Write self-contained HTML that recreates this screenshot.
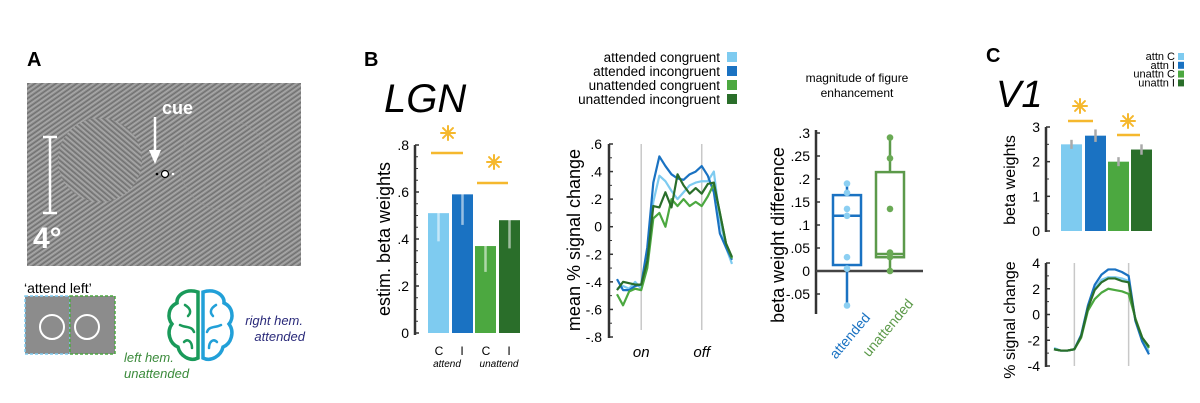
<!DOCTYPE html>
<html><head><meta charset="utf-8"><style>
html,body{margin:0;padding:0;background:#fff;}
svg{display:block;font-family:"Liberation Sans",Arial,sans-serif;}
</style></head><body>
<svg id="fig" width="1200" height="403" viewBox="0 0 1200 403" xmlns="http://www.w3.org/2000/svg">
<defs>
<pattern id="tex1" width="4" height="4" patternUnits="userSpaceOnUse" patternTransform="rotate(-35)">
<rect width="4" height="4" fill="#8f8f8f"/><rect width="4" height="1" fill="#6e6e6e"/><rect y="2" width="4" height="0.8" fill="#b2b2b2"/>
</pattern>
<pattern id="tex2" width="4" height="4" patternUnits="userSpaceOnUse" patternTransform="rotate(40)">
<rect width="4" height="4" fill="#8f8f8f"/><rect width="4" height="1" fill="#6e6e6e"/><rect y="2" width="4" height="0.8" fill="#b2b2b2"/>
</pattern>
</defs>

<!-- Panel A -->
<g>
<text x="27" y="66" font-size="20" font-weight="bold">A</text>
<rect x="27" y="83" width="274" height="183" fill="url(#tex1)"/>
<circle cx="100" cy="160" r="42" fill="url(#tex2)"/>
<circle cx="225" cy="165" r="45" fill="none" stroke="#999" stroke-width="1" opacity="0.5"/>
<g stroke="#fff" stroke-width="2.5">
<line x1="50" y1="137" x2="50" y2="213"/><line x1="43" y1="137" x2="57" y2="137"/><line x1="43" y1="213" x2="57" y2="213"/>
</g>
<text x="33" y="248" font-size="30" font-weight="bold" fill="#fff">4°</text>
<text x="162" y="114" font-size="18" font-weight="bold" fill="#fff">cue</text>
<line x1="155" y1="117" x2="155" y2="160" stroke="#fff" stroke-width="2.5"/>
<polygon points="149,150 161,150 155,164" fill="#fff"/>
<circle cx="165" cy="174" r="3.5" fill="#fff" stroke="#000" stroke-width="1.2"/>
<circle cx="157" cy="174" r="1.3" fill="#000"/><circle cx="173" cy="174" r="1.3" fill="#fff"/>
<text x="24" y="293" font-size="14">‘attend left’</text>
<rect x="25" y="296" width="45" height="58" fill="#8c8c8c" stroke="#7ecbf0" stroke-width="1.5" stroke-dasharray="3,2"/>
<rect x="70" y="296" width="45" height="58" fill="#8c8c8c" stroke="#4ca840" stroke-width="1.5" stroke-dasharray="3,2"/>
<circle cx="52" cy="327" r="12" fill="none" stroke="#fff" stroke-width="2"/>
<circle cx="87" cy="327" r="12" fill="none" stroke="#fff" stroke-width="2"/>
<g fill="none" stroke-width="3.5" stroke-linecap="round">
<path d="M198,292 C185,288 176,296 177,303 C168,307 167,318 172,324 C166,332 170,344 178,347 C180,356 190,362 198,358 Z" stroke="#1a9a5a"/>
<path d="M203,292 C216,288 225,296 224,303 C233,307 234,318 229,324 C235,332 231,344 223,347 C221,356 211,362 203,358 Z" stroke="#22a0d8"/>
<path d="M185,305 C190,308 192,312 188,316 M180,325 C186,328 192,326 194,332 M184,342 C188,338 192,342 192,348" stroke="#1a9a5a" stroke-width="2.5"/>
<path d="M216,305 C211,308 209,312 213,316 M221,325 C215,328 209,326 207,332 M217,342 C213,338 209,342 209,348" stroke="#22a0d8" stroke-width="2.5"/>
</g>
<text x="303" y="325" font-size="13" font-style="italic" fill="#2a2a7a" text-anchor="end">right hem.</text>
<text x="305" y="341" font-size="13" font-style="italic" fill="#2a2a7a" text-anchor="end">attended</text>
<text x="124" y="362" font-size="13" font-style="italic" fill="#3a8a3a">left hem.</text>
<text x="124" y="378" font-size="13" font-style="italic" fill="#3a8a3a">unattended</text>
</g>

<!-- Panel B -->
<text x="364" y="66" font-size="20" font-weight="bold">B</text>
<text x="384" y="112" font-size="40" font-style="italic">LGN</text>
<g id="lgnBars"></g>
<g id="lgnLines"></g>
<g id="boxChart"></g>
<g id="legendB"></g>

<!-- Panel C -->
<text x="986" y="62" font-size="20" font-weight="bold">C</text>
<text x="996" y="107" font-size="38" font-style="italic">V1</text>
<g id="v1Bars"></g>
<g id="v1Lines"></g>
<g id="legendC"></g>
</svg>
<script>
const colors = ["#7ecbf0","#1a72c2","#4ca840","#2a6e2a"];
const seriesNames = ["attended congruent","attended incongruent","unattended congruent","unattended incongruent"];
const seriesShort = ["attn C","attn I","unattn C","unattn I"];
// LGN bars
const lgnBarValues = [0.51, 0.59, 0.37, 0.48];
const lgnErrLow = [0.39, 0.46, 0.26, 0.36];
const lgnErrHigh = [0.62, 0.72, 0.47, 0.59];
const lgnTicks = [0, 0.2, 0.4, 0.6, 0.8];
const lgnTickLabels = ["0", ".2", ".4", ".6", ".8"];
// LGN timecourse
const lgnTc = [
 [-0.45,-0.43,-0.45,-0.40,-0.45,-0.25,0.18,0.37,0.33,0.26,0.20,0.25,0.30,0.32,0.33,0.33,0.40,0.05,-0.15,-0.27],
 [-0.38,-0.46,-0.46,-0.43,-0.42,-0.15,0.32,0.51,0.44,0.38,0.35,0.34,0.38,0.40,0.44,0.37,0.25,-0.05,-0.15,-0.24],
 [-0.49,-0.57,-0.47,-0.45,-0.46,-0.30,0.06,0.10,0.00,0.20,0.15,0.20,0.15,0.18,0.15,0.22,0.31,0.10,-0.12,-0.23],
 [-0.46,-0.40,-0.41,-0.42,-0.42,-0.25,0.15,0.14,0.25,0.14,0.38,0.30,0.24,0.28,0.24,0.31,0.32,0.10,-0.12,-0.22]
];
const lgnTcTicks = [0.6,0.4,0.2,0,-0.2,-0.4,-0.6,-0.8];
const lgnTcTickLabels = [".6",".4",".2","0","-.2","-.4","-.6","-.8"];
// boxplot
const boxGroups = ["attended","unattended"];
const boxStats = [[-0.075,0.013,0.12,0.165,0.19],[0,0.03,0.037,0.215,0.29]];
const boxPoints = [[0.19,0.17,0.135,0.12,0.03,0.005,-0.075],[0.29,0.245,0.135,0.04,0.03,0]];
const boxTicks = [0.3,0.25,0.2,0.15,0.1,0.05,0,-0.05];
const boxTickLabels = [".3",".25",".2",".15",".1",".05","0","-.05"];
// V1 bars
const v1BarValues = [2.5, 2.75, 2.0, 2.35];
const v1Err = [0.13, 0.18, 0.13, 0.15];
const v1Ticks = [0,1,2,3];
// V1 timecourse
const v1Tc = [
 [-2.6,-2.8,-2.8,-2.7,-1.6,0.6,2.0,2.7,2.9,2.9,2.8,2.6,-0.5,-2.0,-2.9],
 [-2.7,-2.8,-2.8,-2.7,-1.6,0.7,2.3,3.1,3.5,3.5,3.3,3.0,-0.5,-2.1,-3.1],
 [-2.7,-2.8,-2.8,-2.7,-1.8,0.3,1.2,1.7,2.0,1.9,1.8,1.6,-0.3,-1.8,-2.6],
 [-2.7,-2.8,-2.8,-2.7,-1.7,0.5,1.9,2.5,2.8,2.8,2.6,2.5,-0.4,-1.8,-2.5]
];
const v1TcTicks = [4,2,0,-2,-4];

const NS = "http://www.w3.org/2000/svg";
function mk(parent, tag, attrs, text){
  const e = document.createElementNS(NS, tag);
  for (const k in attrs) e.setAttribute(k, attrs[k]);
  if (text !== undefined) e.textContent = text;
  parent.appendChild(e);
  return e;
}
function lin(d0,d1,r0,r1){ return v => r0 + (v-d0)*(r1-r0)/(d1-d0); }
const axisCol = "#333";
function star(g, cx, cy){
  const s = mk(g,"g",{stroke:"#f5b82e","stroke-width":2,"stroke-linecap":"round"});
  
  
  for(let a=0;a<4;a++){
    const th = a*Math.PI/4, r = 7;
    mk(s,"line",{x1:cx-r*Math.cos(th),y1:cy-r*Math.sin(th),x2:cx+r*Math.cos(th),y2:cy+r*Math.sin(th)});
  }
  mk(s,"circle",{cx:cx,cy:cy,r:2.5,fill:"#f5b82e",stroke:"none"});
}

// ---------- LGN bars ----------
(function(){
  const g = document.getElementById("lgnBars");
  const y = lin(0,0.8,333,145);
  const barX = [428,452,475,499], bw = 21;
  let ax = mk(g,"line",{x1:415,y1:145,x2:415,y2:335,stroke:axisCol,"stroke-width":2.5});
  
  
  lgnTicks.forEach((t,i)=>{
    mk(g,"line",{x1:415,y1:y(t),x2:419,y2:y(t),stroke:axisCol,"stroke-width":1.5});
    for(let m=1;m<4&&t<0.8;m++) mk(g,"line",{x1:415,y1:y(t+m*0.05),x2:418,y2:y(t+m*0.05),stroke:axisCol,"stroke-width":1});
    const tl = mk(g,"text",{x:409,y:y(t)+5,"font-size":14,"text-anchor":"end"},lgnTickLabels[i]);
    
    
  });
  lgnBarValues.forEach((v,i)=>{
    const r = mk(g,"rect",{x:barX[i],y:y(v),width:bw,height:y(0)-y(v),fill:colors[i]});
    
    
    const e = mk(g,"line",{x1:barX[i]+bw/2,y1:y(lgnErrLow[i]),x2:barX[i]+bw/2,y2:y(lgnErrHigh[i]),stroke:"#fff","stroke-opacity":0.55,"stroke-width":2.5});
    
    
  });
  const yl = mk(g,"text",{x:0,y:0,"font-size":18,"text-anchor":"middle",transform:"translate(390,239) rotate(-90)"},"estim. beta weights");
  
  
  [["C",439],["I",462],["C",486],["I",509]].forEach(a=>mk(g,"text",{x:a[1],y:355,"font-size":12,"text-anchor":"middle"},a[0]));
  mk(g,"text",{x:447,y:367,"font-size":10,"font-style":"italic","text-anchor":"middle"},"attend");
  mk(g,"text",{x:499,y:367,"font-size":10,"font-style":"italic","text-anchor":"middle"},"unattend");
  [[431,463,153,448,133],[477,508,183,494,162]].forEach(s=>{
    const l = mk(g,"line",{x1:s[0],y1:s[2],x2:s[1],y2:s[2],stroke:"#f5b82e","stroke-width":2.5});
    
    
    star(g, s[3], s[4]);
  });
})();

// ---------- LGN timecourse ----------
(function(){
  const g = document.getElementById("lgnLines");
  const y = lin(0.6,-0.8,144,337);
  const x = i => 617 + i*(732-617)/19;
  const ax = mk(g,"line",{x1:609,y1:144,x2:609,y2:338,stroke:axisCol,"stroke-width":2.5});
  
  
  lgnTcTicks.forEach((t,i)=>{
    mk(g,"line",{x1:609,y1:y(t),x2:613,y2:y(t),stroke:axisCol,"stroke-width":1.5});
    if(i<lgnTcTicks.length-1) mk(g,"line",{x1:609,y1:y(t-0.1),x2:612,y2:y(t-0.1),stroke:axisCol,"stroke-width":1});
    const tl = mk(g,"text",{x:602,y:y(t)+5,"font-size":14,"text-anchor":"end"},lgnTcTickLabels[i]);
    
    
  });
  [[4,"on"],[14,"off"]].forEach(a=>{
    mk(g,"line",{x1:x(a[0]),y1:144,x2:x(a[0]),y2:330,stroke:"#c8c8c8","stroke-width":1.5});
    const t = mk(g,"text",{x:x(a[0]),y:357,"font-size":15,"font-style":"italic","text-anchor":"middle"},a[1]);
    
    
  });
  lgnTc.forEach((s,k)=>{
    const p = mk(g,"polyline",{points:s.map((v,i)=>x(i)+","+y(v)).join(" "),fill:"none",stroke:colors[k],"stroke-width":2.2,"stroke-linejoin":"round"});
    
    
  });
  const yl = mk(g,"text",{x:0,y:0,"font-size":18,"text-anchor":"middle",transform:"translate(580,240) rotate(-90)"},"mean % signal change");
  
  
})();

// ---------- Legend B ----------
(function(){
  const g = document.getElementById("legendB");
  seriesNames.forEach((n,i)=>{
    const yy = 62 + i*14;
    const t = mk(g,"text",{x:720,y:yy,"font-size":13.5,"text-anchor":"end"},n);
    
    
    const r = mk(g,"rect",{x:727,y:yy-10,width:10,height:10,fill:colors[i]});
    
    
  });
})();

// ---------- Boxplot ----------
(function(){
  const g = document.getElementById("boxChart");
  const y = lin(0,0.3,271,133);
  mk(g,"text",{x:857,y:82,"font-size":12,"text-anchor":"middle"},"magnitude of figure");
  mk(g,"text",{x:857,y:97,"font-size":12,"text-anchor":"middle"},"enhancement");
  const ax = mk(g,"line",{x1:816,y1:130,x2:816,y2:314,stroke:axisCol,"stroke-width":2.5});
  
  
  boxTicks.forEach((t,i)=>{
    mk(g,"line",{x1:816,y1:y(t),x2:820,y2:y(t),stroke:axisCol,"stroke-width":1.5});
    const tl = mk(g,"text",{x:810,y:y(t)+5,"font-size":14,"text-anchor":"end"},boxTickLabels[i]);
    
    
  });
  const z = mk(g,"line",{x1:816,y1:y(0),x2:923,y2:y(0),stroke:"#444","stroke-width":2.5});
  
  
  const cx = [847,890], bcol = ["#1a72c2","#5c9a4a"], pcol = ["#8ccff2","#6aaa55"];
  boxStats.forEach((s,k)=>{
    const w = mk(g,"line",{x1:cx[k],y1:y(s[0]),x2:cx[k],y2:y(s[4]),stroke:bcol[k],"stroke-width":2.5});
    
    
    const b = mk(g,"rect",{x:cx[k]-14,y:y(s[3]),width:28,height:y(s[1])-y(s[3]),fill:"#fff",stroke:bcol[k],"stroke-width":2.5});
    
    
    const m = mk(g,"line",{x1:cx[k]-14,y1:y(s[2]),x2:cx[k]+14,y2:y(s[2]),stroke:bcol[k],"stroke-width":2.5});
    
    
    boxPoints[k].forEach(v=>{
      const c = mk(g,"circle",{cx:cx[k],cy:y(v),r:3.3,fill:pcol[k]});
      
      
    });
    const lab = mk(g,"text",{x:0,y:0,"font-size":14,fill:bcol[k],"text-anchor":"end",transform:"translate("+(cx[k]+24)+","+(k?304:318)+") rotate(-50)"},boxGroups[k]);
    
    
  });
  const yl = mk(g,"text",{x:0,y:0,"font-size":18,"text-anchor":"middle",transform:"translate(784,235) rotate(-90)"},"beta weight difference");
  
  
})();

// ---------- V1 bars ----------
(function(){
  const g = document.getElementById("v1Bars");
  const y = lin(0,3,231,127);
  const barX = [1061,1085,1108,1131], bw = 21;
  const ax = mk(g,"line",{x1:1046,y1:127,x2:1046,y2:232,stroke:axisCol,"stroke-width":2.5});
  
  
  v1Ticks.forEach(t=>{
    mk(g,"line",{x1:1046,y1:y(t),x2:1050,y2:y(t),stroke:axisCol,"stroke-width":1.5});
    if(t<3) mk(g,"line",{x1:1046,y1:y(t+0.5),x2:1049,y2:y(t+0.5),stroke:axisCol,"stroke-width":1});
    const tl = mk(g,"text",{x:1040,y:y(t)+5,"font-size":14,"text-anchor":"end"},String(t));
    
    
  });
  v1BarValues.forEach((v,i)=>{
    const r = mk(g,"rect",{x:barX[i],y:y(v),width:bw,height:y(0)-y(v),fill:colors[i]});
    
    
    const e = mk(g,"line",{x1:barX[i]+bw/2,y1:y(v-v1Err[i]),x2:barX[i]+bw/2,y2:y(v+v1Err[i]),stroke:"#aaa","stroke-width":2.5});
    
    
  });
  [[1068,1093,121,1080,106],[1117,1140,135,1128,121]].forEach(s=>{
    const l = mk(g,"line",{x1:s[0],y1:s[2],x2:s[1],y2:s[2],stroke:"#f5b82e","stroke-width":2.5});
    
    
    star(g, s[3], s[4]);
  });
  const yl = mk(g,"text",{x:0,y:0,"font-size":16,"text-anchor":"middle",transform:"translate(1015,180) rotate(-90)"},"beta weights");
  
  
})();

// ---------- V1 timecourse ----------
(function(){
  const g = document.getElementById("v1Lines");
  const y = lin(4,-4,263,366);
  const x = i => 1054 + i*(1149-1054)/14;
  const ax = mk(g,"line",{x1:1046,y1:263,x2:1046,y2:367,stroke:axisCol,"stroke-width":2.5});
  
  
  v1TcTicks.forEach((t,i)=>{
    mk(g,"line",{x1:1046,y1:y(t),x2:1050,y2:y(t),stroke:axisCol,"stroke-width":1.5});
    if(i<v1TcTicks.length-1) mk(g,"line",{x1:1046,y1:y(t-1),x2:1049,y2:y(t-1),stroke:axisCol,"stroke-width":1});
    const tl = mk(g,"text",{x:1040,y:y(t)+5,"font-size":14,"text-anchor":"end"},String(t));
    
    
  });
  [3,11].forEach(i=>mk(g,"line",{x1:x(i),y1:263,x2:x(i),y2:366,stroke:"#c8c8c8","stroke-width":1.5}));
  v1Tc.forEach((s,k)=>{
    const p = mk(g,"polyline",{points:s.map((v,i)=>x(i)+","+y(v)).join(" "),fill:"none",stroke:colors[k],"stroke-width":2.2,"stroke-linejoin":"round"});
    
    
  });
  const yl = mk(g,"text",{x:0,y:0,"font-size":16,"text-anchor":"middle",transform:"translate(1015,320) rotate(-90)"},"% signal change");
  
  
})();

// ---------- Legend C ----------
(function(){
  const g = document.getElementById("legendC");
  seriesShort.forEach((n,i)=>{
    const yy = 60 + i*8.8;
    const t = mk(g,"text",{x:1175,y:yy,"font-size":11,"text-anchor":"end"},n);
    
    
    const r = mk(g,"rect",{x:1178,y:yy-7,width:6,height:7,fill:colors[i]});
    
    
  });
})();
</script>
</body></html>
